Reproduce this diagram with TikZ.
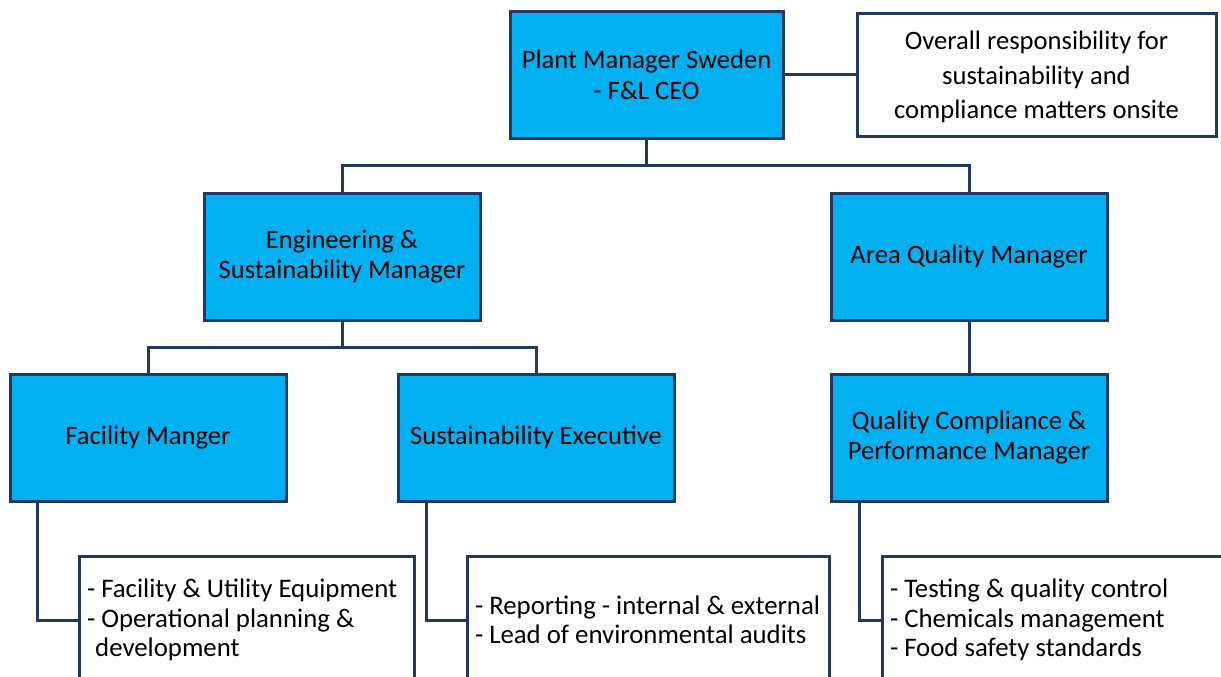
\documentclass[tikz,border=0pt]{standalone}
\usepackage{fontspec}
\setmainfont{Carlito}
\usetikzlibrary{calc}
\definecolor{boxblue}{HTML}{00B0F0}
\definecolor{navy}{HTML}{1F3864}
\begin{document}
\begin{tikzpicture}[x=1pt,y=-1pt,
  every node/.style={inner sep=0pt,outer sep=0pt},
  rolebox/.style={draw=navy,fill=boxblue,line width=3pt,minimum width=276pt,minimum height=127pt,align=center,font=\fontsize{26.6}{30.5}\selectfont},
  notebox/.style={draw=navy,fill=white,line width=3pt,align=center,font=\fontsize{26.6}{34.5}\selectfont},
  listbox/.style={draw=navy,fill=white,line width=3pt,minimum height=127pt,align=flush left,inner xsep=8pt,font=\fontsize{26.8}{29.5}\selectfont},
  link/.style={draw=navy,line width=3pt}]
\useasboundingbox (0,0) rectangle (1221,677);
\clip (0,0) rectangle (1221,677);
\fill[white] (0,0) rectangle (1221,677);

\node[rolebox,minimum width=273pt,minimum height=126pt] (ceo) at (646.5,75) {Plant Manager Sweden\\- F\&L CEO};
\node[notebox,minimum width=359pt,minimum height=122pt,text depth=0pt] (note) at (1036.5,75) {Overall responsibility for\\sustainability and\\compliance matters onsite\vphantom{g}};
\node[rolebox] (eng) at (342,256.5) {Engineering \&\\Sustainability Manager};
\node[rolebox] (aqm) at (969,256.5) {Area Quality Manager};
\node[rolebox] (fac) at (148,437.5) {Facility Manger};
\node[rolebox] (se) at (536,437.5) {Sustainability Executive};
\node[rolebox] (qcp) at (969,437.5) {Quality Compliance \&\\Performance Manager};

\node[listbox,minimum width=335pt,text width=319pt] (flist) at (246.5,620) {- Facility \& Utility Equipment\\- Operational planning \&\\\phantom{-}development};
\node[listbox,minimum width=362pt,text width=346pt] (slist) at (648,620) {- Reporting - internal \& external\\- Lead of environmental audits};
\node[listbox,minimum width=362pt,text width=346pt] (qlist) at (1063,620) {- Testing \& quality control\\- Chemicals management\\- Food safety standards};

\draw[link] (ceo.east) -- (ceo.east -| note.west);
\draw[link] (ceo.south) -- ++(0,27) -| (eng.north);
\draw[link] (ceo.south) -- ++(0,27) -| (aqm.north);
\draw[link] (eng.south) -- ++(0,27) -| (fac.north);
\draw[link] (eng.south) -- ++(0,27) -| (se.north);
\draw[link] (aqm.south) -- (qcp.north);
\draw[link] ($(fac.south west)+(27,0)$) |- (flist.west);
\draw[link] ($(se.south west)+(28,0)$) |- (slist.west);
\draw[link] ($(qcp.south west)+(28,0)$) |- (qlist.west);
\end{tikzpicture}
\end{document}
